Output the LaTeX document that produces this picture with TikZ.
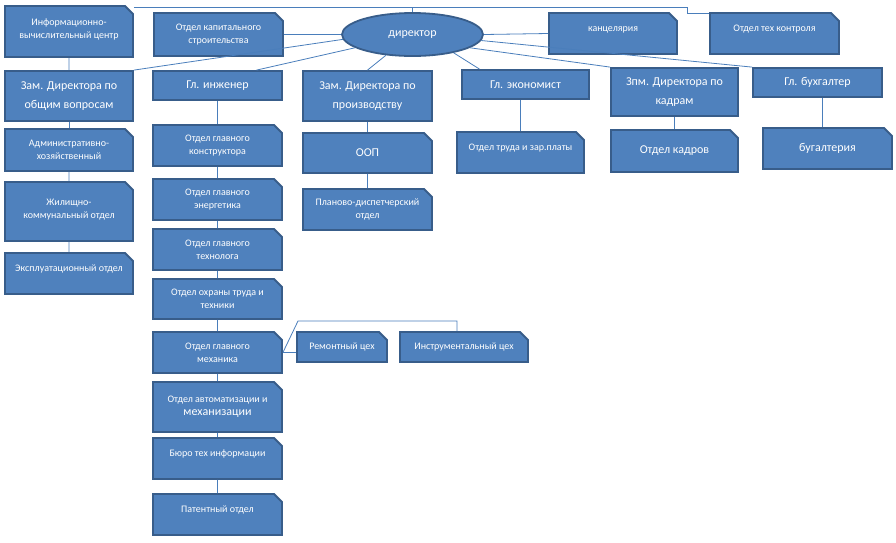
\documentclass[tikz,border=0pt]{standalone}
\usepackage{fontspec}
\setmainfont{Carlito}
\usetikzlibrary{shapes.misc,shapes.geometric}
\definecolor{boxfill}{HTML}{4F81BD}
\definecolor{boxline}{HTML}{385D8A}
\definecolor{linkline}{HTML}{4A7EBB}
\tikzset{
	box/.style={rectangle, fill=boxfill, draw=boxline, line width=1.8pt, text=white, align=center, inner sep=1pt, font=\fontsize{12}{18.5}\selectfont},
	snip/.style={box, chamfered rectangle, chamfered rectangle corners=north east, chamfered rectangle xsep=4pt, chamfered rectangle ysep=4pt},
	small/.style={font=\fontsize{10}{13}\selectfont},
	oneline/.style={text height=7pt, text depth=11.5pt},
	lifted/.style={text depth=#1},
	link/.style={draw=linkline, line width=0.8pt},
}

\begin{document}
\begin{tikzpicture}[x=1pt, y=-1pt]
		%%%%% START %%%%%
		\useasboundingbox (0, 0) rectangle (896, 542);
		
		% top row
		\node[snip, small, lifted=6pt, minimum width=128, minimum height=51] (info) at (69, 31.5) {Информационно-\\вычислительный центр};
		\node[snip, small, minimum width=129, minimum height=43] (kap) at (218.5, 34.5) {Отдел капитального\\строительства};
		\node[ellipse, fill=boxfill, draw=boxline, line width=1.8pt, text=white, font=\fontsize{12}{15}\selectfont, minimum width=141, minimum height=43, inner sep=0pt] (dir) at (412.5, 34.5) {директор};
		\node[snip, small, oneline, minimum width=128, minimum height=41] (kanc) at (613, 33.5) {канцелярия};
		\node[snip, small, oneline, minimum width=129, minimum height=41] (tk) at (774.5, 33.5) {Отдел тех контроля};
		
		% heads
		\node[box, minimum width=128, minimum height=50] (zam1) at (69, 96) {Зам. Директора по\\общим вопросам};
		\node[box, minimum width=129, minimum height=29] (ing) at (217.5, 85.5) {Гл. инженер};
		\node[box, minimum width=129, minimum height=50] (zam2) at (367.5, 96) {Зам. Директора по\\производству};
		\node[box, minimum width=127, minimum height=29] (ekon) at (525.5, 84.5) {Гл. экономист};
		\node[box, minimum width=127, minimum height=48] (zpm) at (674.5, 92) {Зпм. Директора по\\кадрам};
		\node[box, minimum width=129, minimum height=29] (buh) at (817.5, 82.5) {Гл. бухгалтер};
		
		% left column
		\node[snip, small, minimum width=128, minimum height=42] (adm) at (69, 150) {Административно-\\хозяйственный};
		\node[snip, small, lifted=6pt, minimum width=128, minimum height=59] (zhk) at (69, 211.5) {Жилищно-\\коммунальный отдел};
		\node[snip, small, oneline, minimum width=128, minimum height=41] (expl) at (69, 273.5) {Эксплуатационный отдел};
		
		% engineer column
		\node[snip, small, minimum width=129, minimum height=41] (konstr) at (217.5, 145.5) {Отдел главного\\конструктора};
		\node[snip, small, minimum width=129, minimum height=41] (energ) at (217.5, 199.5) {Отдел главного\\энергетика};
		\node[snip, small, minimum width=129, minimum height=41] (tekhn) at (217.5, 249.5) {Отдел главного\\технолога};
		\node[snip, small, minimum width=129, minimum height=40] (okhr) at (217.5, 299) {Отдел охраны труда и\\техники};
		\node[snip, small, minimum width=129, minimum height=41] (mekh) at (217.5, 352.5) {Отдел главного\\механика};
		\node[snip, small, minimum width=129, minimum height=50] (avt) at (217.5, 407) {Отдел автоматизации и\\{\fontsize{12}{15}\selectfont механизации}};
		\node[snip, small, oneline, minimum width=129, minimum height=41] (buro) at (217.5, 458.5) {Бюро тех информации};
		\node[snip, small, oneline, minimum width=129, minimum height=41] (pat) at (217.5, 514.5) {Патентный отдел};
		\node[snip, small, minimum width=90, minimum height=30] (rem) at (342, 347) {Ремонтный цех};
		\node[snip, small, minimum width=128, minimum height=30] (instr) at (464, 347) {Инструментальный цех};
		
		% production column
		\node[snip, minimum width=129, minimum height=40] (oop) at (367.5, 153) {ООП};
		\node[snip, small, minimum width=129, minimum height=41] (plan) at (367.5, 209.5) {Планово-диспетчерский\\отдел};
		
		% right departments
		\node[snip, small, oneline, minimum width=127, minimum height=41] (trud) at (520.5, 152.5) {Отдел труда и зар.платы};
		\node[snip, minimum width=127, minimum height=42] (kadr) at (674.5, 151) {Отдел кадров};
		\node[snip, minimum width=129, minimum height=41] (bug) at (827.5, 148.5) {бугалтерия};
		
		% links from director
		\coordinate (topbend) at (687, 7);
		\draw[link] (topbend -| info.east) -- (topbend) |- ([yshift=-1]tk.north west);
		\draw[link] (dir.north) -- (dir.north |- topbend);
		\draw[link] (kap.east) -- (dir.west);
		\draw[link] (dir.east) -- (kanc.west);
		\draw[link] (dir.184) -- (zam1.north east);
		\draw[link] (dir.193) -- ([xshift=39]ing.north);
		\draw[link] (dir.218) -- (zam2.north);
		\draw[link] (dir.336) -- ([xshift=-46]ekon.north);
		\draw[link] (dir.347) -- (zpm.north west);
		\draw[link] (dir.355) -- (buh.north west);
		
		% links down the columns
		\draw[link] (info) -- (zam1);
		\draw[link] (zam1) -- (adm);
		\draw[link] (adm) -- (zhk);
		\draw[link] (zhk) -- (expl);
		\draw[link] (ing) -- (konstr);
		\draw[link] (konstr) -- (energ);
		\draw[link] (energ) -- (tekhn);
		\draw[link] (tekhn) -- (okhr);
		\draw[link] (okhr) -- (mekh);
		\draw[link] (mekh) -- (avt);
		\draw[link] (avt) -- (buro);
		\draw[link] (buro) -- (pat);
		\draw[link] (zam2) -- (oop);
		\draw[link] (oop) -- (plan);
		\draw[link] (trud.north) -- (trud.north |- ekon.south);
		\draw[link] (zpm) -- (kadr);
		\draw[link] ([xshift=5]buh.south) -- ([xshift=5]buh.south |- bug.north);
		
		% workshops
		\coordinate (mkbend) at (298, 321);
		\draw[link] (mekh.east) -- (mekh.east -| rem.west);
		\draw[link] (mekh.east) -- (mkbend) -| ([xshift=-7]instr.north);
		
		%%%%% END %%%%%
	\end{tikzpicture}
\end{document}
